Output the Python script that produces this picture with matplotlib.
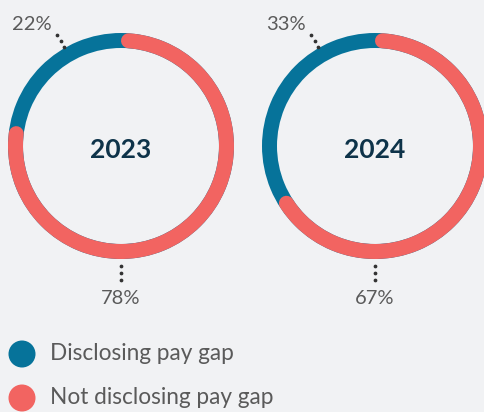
import numpy as np
import matplotlib
matplotlib.use("Agg")
import matplotlib.pyplot as plt
from matplotlib.patches import Wedge, Circle

years = ["2023", "2024"]
disclosing = [22, 33]
not_disclosing = [78, 67]
series_names = ["Disclosing pay gap", "Not disclosing pay gap"]

BG = "#f1f2f4"
BLUE = "#06739a"
RED = "#f26461"
NAVY = "#0e3349"
GRAY = "#5a5a5a"

W, H = 484, 412
fig = plt.figure(figsize=(W / 100, H / 100), dpi=100, facecolor=BG)
ax = fig.add_axes([0, 0, 1, 1])
ax.set_xlim(0, W)
ax.set_ylim(H, 0)
ax.set_aspect("equal")
ax.axis("off")
ax.set_facecolor(BG)

FONT = ["Lato", "DejaVu Sans"]
centers_x = [121, 375]
cy = 146
r_out = 113
ring_w = 15
r_mid = r_out - ring_w / 2
lw_pt = ring_w * 72 / 100

for cx, year, d, nd in zip(centers_x, years, disclosing, not_disclosing):
    # full blue ring
    ax.add_patch(Wedge((cx, cy), r_out, 0, 360, width=ring_w, facecolor=BLUE, edgecolor="none"))
    # red arc clockwise from top, rounded ends
    total = d + nd
    inset = np.degrees((ring_w / 2) / r_mid)
    start = 90 - inset
    end = 90 - 360 * nd / total + inset
    th = np.radians(np.linspace(start, end, 400))
    ax.plot(cx + r_mid * np.cos(th), cy - r_mid * np.sin(th), color=RED,
            lw=lw_pt, solid_capstyle="round")
    ax.text(cx, cy + 4, year, ha="center", va="center", fontsize=19,
            fontweight="bold", color=NAVY, family=FONT)
    # disclosing label (top-left)
    ax.text(cx - 89, 24, f"{d}%", ha="center", va="center", fontsize=14.5,
            fontweight="normal", color=GRAY, family=FONT)
    ax.plot([cx - 64, cx - 60.5, cx - 57], [35, 41, 47], ls="none", marker="o",
            ms=1.7, color="#333333")
    # not-disclosing label (bottom)
    ax.text(cx, 299, f"{nd}%", ha="center", va="center", fontsize=14.5,
            fontweight="normal", color=GRAY, family=FONT)
    ax.plot([cx, cx, cx], [266, 273, 280], ls="none", marker="o", ms=1.7,
            color="#333333")

# legend
for i, (name, col) in enumerate(zip(series_names, [BLUE, RED])):
    y = 354 + 44 * i
    ax.add_patch(Circle((22, y), 13.5, facecolor=col, edgecolor="none"))
    ax.text(50, y, name, ha="left", va="center", fontsize=16.3,
            fontweight="normal", color=GRAY, family=FONT)

fig.savefig("out.png", dpi=100, facecolor=BG)
